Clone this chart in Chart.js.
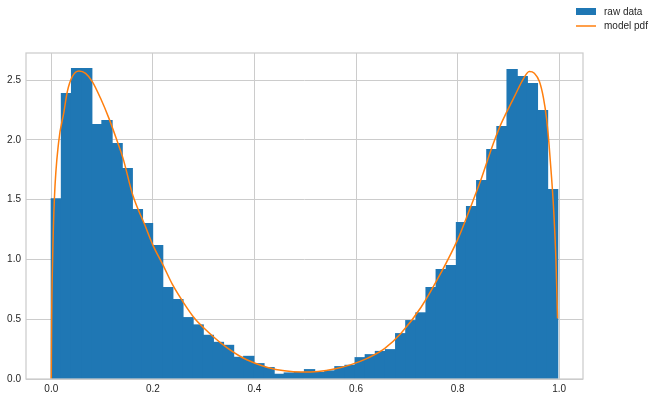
<!DOCTYPE html>
<html>
<head>
<meta charset="utf-8">
<title>raw data / model pdf</title>
<script src="https://cdn.jsdelivr.net/npm/chart.js"></script>
<style>
  body { margin: 0; background: #fff; }
</style>
</head>
<body>
<canvas id="chart" width="656" height="399"></canvas>
<script>
// histogram: 50 equal bins between the smallest and largest sample
var binLow = 0.0;
var binHigh = 0.997;
var rawDensity = [
  1.506, 2.387, 2.597, 2.597, 2.128, 2.161, 1.969, 1.760, 1.417, 1.300,
  1.115, 0.764, 0.664, 0.513, 0.452, 0.365, 0.306, 0.281, 0.181, 0.189,
  0.128, 0.095, 0.039, 0.050, 0.055, 0.078, 0.055, 0.067, 0.103, 0.114,
  0.178, 0.203, 0.230, 0.245, 0.379, 0.488, 0.553, 0.764, 0.915, 0.948,
  1.308, 1.442, 1.659, 1.919, 2.111, 2.588, 2.530, 2.471, 2.245, 1.584
];

// model pdf
var pdfX = [
  0.0, 0.0007, 0.0026, 0.006, 0.0144, 0.025, 0.0315, 0.0413, 0.0544, 0.0675,
  0.0807, 0.097, 0.1135, 0.13, 0.141, 0.161, 0.184, 0.2, 0.22, 0.239,
  0.259, 0.282, 0.302, 0.334, 0.374, 0.4, 0.426, 0.459, 0.492, 0.525,
  0.557, 0.59, 0.623, 0.656, 0.689, 0.728, 0.767, 0.8, 0.826, 0.846,
  0.866, 0.8756, 0.885, 0.895, 0.905, 0.915, 0.928, 0.941, 0.951, 0.961,
  0.969, 0.975, 0.98, 0.985, 0.989, 0.9935, 0.9967
];
var pdfY = [
  0.0, 0.5, 1.0, 1.5, 1.98, 2.237, 2.404, 2.53, 2.577, 2.557,
  2.488, 2.348, 2.18, 1.986, 1.85, 1.53, 1.29, 1.12, 0.953, 0.787,
  0.648, 0.508, 0.42, 0.30, 0.184, 0.134, 0.097, 0.069, 0.058, 0.063,
  0.083, 0.12, 0.175, 0.254, 0.385, 0.60, 0.887, 1.166, 1.444, 1.668,
  1.919, 2.03, 2.13, 2.22, 2.305, 2.39, 2.50, 2.572, 2.558, 2.488,
  2.35, 2.18, 1.96, 1.68, 1.42, 1.0, 0.506
];

var xTicks = [0.0, 0.2, 0.4, 0.6, 0.8, 1.0];
var yTicks = [0.0, 0.5, 1.0, 1.5, 2.0, 2.5];

var fontFamily = '"Liberation Sans", Arial, "DejaVu Sans", sans-serif';

var binWidth = (binHigh - binLow) / rawDensity.length;
var barData = rawDensity.map(function(v, i) {
  return { x: binLow + (i + 0.5) * binWidth, y: v };
});
var lineData = pdfX.map(function(x, i) {
  return { x: x, y: pdfY[i] };
});

// matplotlib-style frame around the axes
var framePlugin = {
  id: 'frame',
  afterDatasetsDraw: function(chart) {
    var a = chart.chartArea;
    var ctx = chart.ctx;
    ctx.save();
    ctx.strokeStyle = '#cccccc';
    ctx.lineWidth = 1.25;
    ctx.strokeRect(a.left, a.top, a.right - a.left, a.bottom - a.top);
    ctx.restore();
  }
};

// figure legend in the top right corner
var legendPlugin = {
  id: 'figLegend',
  afterDraw: function(chart) {
    var ctx = chart.ctx;
    var ds = chart.data.datasets;
    ctx.save();
    ctx.font = '10px ' + fontFamily;
    ctx.textBaseline = 'middle';

    ctx.fillStyle = ds[0].backgroundColor;
    ctx.fillRect(576, 8, 20, 7);
    ctx.fillStyle = '#262626';
    ctx.fillText(ds[0].label, 604, 12);

    ctx.strokeStyle = ds[1].borderColor;
    ctx.lineWidth = 1.5;
    ctx.beginPath();
    ctx.moveTo(576, 26);
    ctx.lineTo(596, 26);
    ctx.stroke();
    ctx.fillStyle = '#262626';
    ctx.fillText(ds[1].label, 604, 26);
    ctx.restore();
  }
};

var ctx = document.getElementById('chart').getContext('2d');
var chart = new Chart(ctx, {
  type: 'bar',
  data: {
    datasets: [{
      type: 'bar',
      label: 'raw data',
      data: barData,
      backgroundColor: '#1f77b4',
      borderWidth: 0,
      inflateAmount: 0.6,
      barPercentage: 1.0,
      categoryPercentage: 1.0,
      order: 2
    }, {
      type: 'line',
      label: 'model pdf',
      data: lineData,
      borderColor: '#ff7f0e',
      borderWidth: 1.5,
      pointRadius: 0,
      fill: false,
      cubicInterpolationMode: 'monotone',
      order: 1
    }]
  },
  options: {
    responsive: false,
    animation: false,
    layout: { padding: { left: 0, top: 53, right: 73, bottom: 0 } },
    plugins: {
      legend: { display: false },
      tooltip: { enabled: false }
    },
    scales: {
      x: {
        type: 'linear',
        min: -0.0498,
        max: 1.0468,
        offset: false,
        afterBuildTicks: function(s) {
          s.ticks = xTicks.map(function(v) { return { value: v }; });
        },
        afterFit: function(s) { s.height = 20; },
        ticks: {
          callback: function(v) { return v.toFixed(1); },
          color: '#262626',
          font: { size: 10, family: fontFamily },
          padding: 4,
          maxRotation: 0
        },
        grid: { color: '#cccccc', lineWidth: 1, drawTicks: false, offset: false },
        border: { display: false }
      },
      y: {
        min: 0,
        max: 2.727,
        afterBuildTicks: function(s) {
          s.ticks = yTicks.map(function(v) { return { value: v }; });
        },
        afterFit: function(s) { s.width = 26; },
        ticks: {
          callback: function(v) { return v.toFixed(1); },
          color: '#262626',
          font: { size: 10, family: fontFamily },
          padding: 5
        },
        grid: { color: '#cccccc', lineWidth: 1, drawTicks: false },
        border: { display: false }
      }
    }
  },
  plugins: [framePlugin, legendPlugin]
});
</script>
</body>
</html>
